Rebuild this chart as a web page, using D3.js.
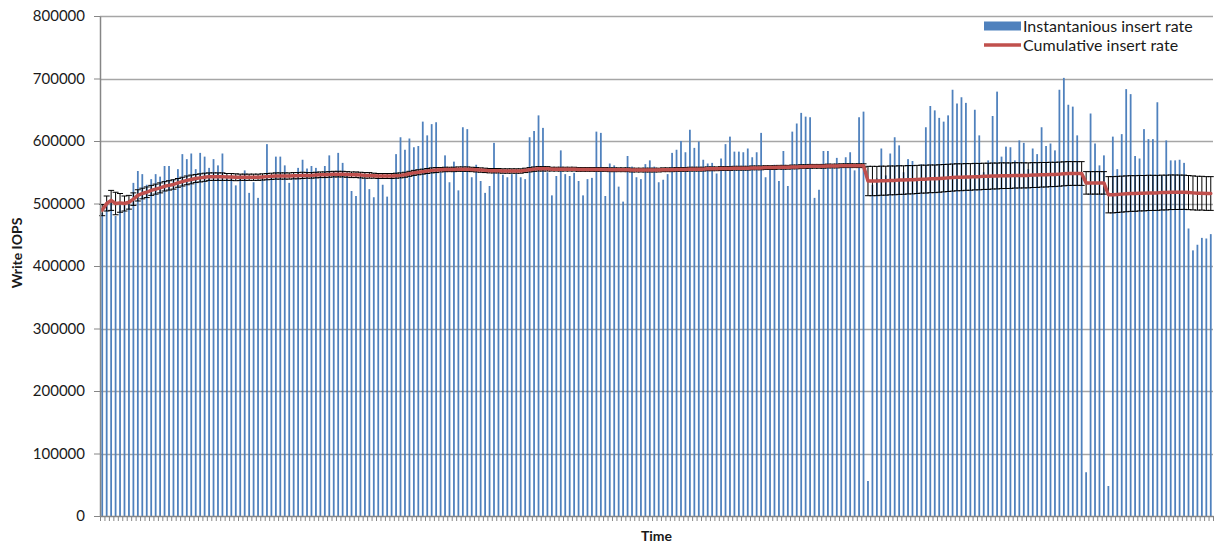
<!DOCTYPE html>
<html>
<head>
<meta charset="utf-8">
<script src="https://cdn.jsdelivr.net/npm/d3@7"></script>
<style>
    body { margin: 0; background: #ffffff; }
    svg { display: block; font-family: "Lato", "Open Sans", sans-serif; }
</style>
</head>
<body>
<svg id="chart" width="1221" height="548"></svg>
<script>

//*************************************************//
// Chart data
//*************************************************//

// Instantaneous insert rate, one value per time slot
var instantRate = [
    485000, 500000, 505000, 480000, 497000, 500000, 505000, 533000, 552000, 547000,
    530000, 539000, 547000, 543000, 560000, 560000, 539000, 555000, 579000, 571000,
    580000, 555000, 581000, 575000, 557000, 571000, 561000, 580000, 545000, 545000,
    529000, 545000, 553000, 517000, 534000, 509000, 540000, 595000, 545000, 575000,
    575000, 561000, 533000, 545000, 557000, 570000, 556000, 560000, 557000, 545000,
    560000, 577000, 552000, 581000, 565000, 545000, 520000, 512000, 542000, 540000,
    523000, 510000, 541000, 530000, 511000, 543000, 579000, 606000, 586000, 604000,
    590000, 592000, 631000, 609000, 627000, 630000, 550000, 577000, 534000, 567000,
    521000, 622000, 619000, 542000, 562000, 536000, 517000, 528000, 597000, 549000,
    546000, 542000, 547000, 548000, 542000, 539000, 606000, 616000, 641000, 621000,
    550000, 513000, 544000, 585000, 547000, 544000, 549000, 536000, 513000, 539000,
    541000, 615000, 613000, 512000, 564000, 561000, 527000, 503000, 576000, 559000,
    542000, 539000, 563000, 569000, 559000, 534000, 538000, 547000, 581000, 586000,
    600000, 582000, 618000, 589000, 599000, 570000, 564000, 565000, 548000, 572000,
    595000, 607000, 583000, 583000, 582000, 588000, 574000, 582000, 613000, 542000,
    558000, 562000, 536000, 584000, 528000, 615000, 628000, 645000, 639000, 638000,
    509000, 522000, 584000, 584000, 560000, 573000, 560000, 574000, 582000, 553000,
    638000, 647000, 56000, 530000, 540000, 588000, 545000, 580000, 606000, 593000,
    550000, 571000, 568000, 540000, 563000, 622000, 656000, 649000, 637000, 631000,
    641000, 682000, 660000, 670000, 661000, 545000, 650000, 609000, 550000, 569000,
    640000, 679000, 575000, 591000, 590000, 569000, 601000, 597000, 555000, 588000,
    579000, 622000, 592000, 596000, 585000, 682000, 701000, 658000, 655000, 609000,
    545000, 70000, 644000, 596000, 561000, 577000, 48000, 607000, 555000, 611000,
    683000, 675000, 576000, 572000, 619000, 603000, 603000, 662000, 545000, 601000,
    569000, 569000, 570000, 565000, 460000, 425000, 434000, 445000, 444000, 451000
];

// Cumulative insert rate, one value per time slot
var cumulativeRate = [
    489500, 500000, 505000, 500000, 501000, 500000, 502000, 507000, 513000, 516000,
    518000, 521000, 523000, 525000, 527500, 529000, 530500, 533000, 535000, 537000,
    538500, 540000, 541000, 542000, 543000, 543000, 543000, 543000, 542500, 542500,
    542000, 542000, 542000, 542000, 542000, 542000, 542500, 543000, 543500, 544000,
    544000, 544000, 544000, 544500, 544500, 545000, 545000, 545000, 545500, 546000,
    546000, 546500, 547000, 547000, 547000, 546500, 546000, 546000, 545500, 545000,
    545000, 544500, 544000, 544000, 544000, 544000, 544500, 545000, 546000, 547500,
    549000, 550000, 551000, 552000, 553000, 553500, 554000, 554500, 554500, 554500,
    555000, 555000, 555000, 554500, 554000, 553500, 553000, 552500, 552500, 552500,
    552000, 552000, 552000, 552000, 552000, 553000, 554000, 555000, 555500, 555500,
    555500, 555000, 555000, 555000, 555000, 555000, 555000, 554500, 554500, 554500,
    554500, 554500, 554500, 554500, 554000, 554000, 554000, 554000, 554000, 553500,
    553500, 553500, 553500, 553500, 553500, 553500, 554000, 554000, 554000, 554500,
    554500, 554500, 555000, 555000, 555000, 555000, 555500, 555500, 555500, 556000,
    556000, 556000, 556500, 556500, 556500, 556500, 557000, 557000, 557000, 557500,
    557500, 557500, 558000, 558000, 558000, 558500, 558500, 559000, 559000, 559500,
    559500, 559500, 559500, 560000, 560000, 560000, 560500, 560500, 560500, 560500,
    560500, 560500, 536000, 536000, 536000, 536500, 536500, 537000, 537000, 537500,
    537500, 538000, 538000, 538500, 539000, 539000, 539500, 539500, 540000, 540500,
    541000, 541500, 542000, 542000, 542500, 542500, 543000, 543000, 543500, 543500,
    544000, 544000, 544500, 544500, 544500, 545000, 545000, 545000, 545000, 545500,
    545500, 546000, 546000, 546500, 546500, 547000, 547500, 548000, 548000, 548000,
    548000, 533000, 533000, 533000, 533000, 533000, 514000, 514000, 514500, 515000,
    515500, 516000, 516000, 516500, 516500, 517000, 517000, 517000, 517500, 517500,
    518000, 518000, 518000, 518000, 517500, 517000, 516500, 516500, 516000, 516000
];

// Error bar half height on the cumulative rate
var cumulativeError = [
    9000, 12000, 16000, 18000, 15000, 12000, 11000, 10000, 9000, 8500,
    8500, 8000, 8000, 8000, 7500, 7500, 7500, 7000, 7000, 7000,
    7000, 6500, 6500, 6500, 6000, 6000, 6000, 6000, 5500, 5500,
    5500, 5000, 5000, 5000, 5000, 5000, 5000, 5000, 5000, 5000,
    5000, 5000, 5000, 5000, 5000, 5000, 4500, 4500, 4500, 4500,
    4500, 4500, 4500, 4500, 4500, 4500, 4500, 4500, 4500, 4500,
    4500, 4000, 4000, 4000, 4000, 4000, 4000, 4000, 4000, 4000,
    4000, 4000, 4000, 4000, 4000, 4000, 3500, 3500, 3500, 3500,
    3500, 3500, 3500, 3500, 3500, 3500, 3500, 3500, 3500, 3500,
    3500, 3500, 3500, 3500, 3500, 3500, 3500, 3500, 3500, 3500,
    3500, 3000, 3000, 3000, 3000, 3000, 3000, 3000, 3000, 3000,
    3000, 3000, 3000, 3000, 3000, 3000, 3000, 3000, 3000, 3000,
    3000, 3000, 3000, 3000, 3000, 3000, 3000, 3000, 3000, 3000,
    3000, 3000, 3000, 3000, 3000, 3000, 3000, 3000, 3000, 3000,
    3000, 3000, 3000, 3000, 3000, 3000, 3000, 3000, 3000, 3000,
    3000, 3000, 3000, 3000, 3000, 3000, 3000, 3000, 3000, 3000,
    3000, 3000, 3000, 3000, 3000, 3000, 3000, 3000, 3000, 3000,
    3000, 3000, 23500, 23500, 23400, 23300, 23200, 23100, 23000, 22900,
    22800, 22700, 22600, 22500, 22400, 22300, 22200, 22100, 22000, 21900,
    21800, 21700, 21600, 21500, 21400, 21300, 21200, 21100, 21000, 20900,
    20800, 20700, 20600, 20500, 20400, 20300, 20200, 20100, 20000, 19900,
    19800, 19700, 19600, 19500, 19400, 19300, 19200, 19100, 19000, 19000,
    19000, 18000, 18000, 18000, 18000, 18000, 29000, 29000, 28900, 28800,
    28700, 28600, 28500, 28400, 28300, 28200, 28100, 28000, 27900, 27800,
    27700, 27600, 27500, 27400, 27300, 27200, 27100, 27000, 27000, 27000
];

// Y axis tick values and labels
var yTicks = [0, 100000, 200000, 300000, 400000, 500000, 600000, 700000, 800000];
var yTickLabels = ["0", "100000", "200000", "300000", "400000", "500000", "600000", "700000", "800000"];

// Legend entries
var legendNames = ["Instantanious insert rate", "Cumulative insert rate"];


//*************************************************//
// Draw chart
//*************************************************//

var svg = d3.select('#chart');

var plot = { left: 100, right: 1213, top: 16, bottom: 516 };

var barColor = '#4f81bd';
var lineColor = '#c0504d';
var gridColor = '#a6a6a6';
var axisColor = '#868686';
var textColor = '#1a1a1a';

// x is the time slot index
var slots = d3.range(instantRate.length);
var x = d3.scaleBand().domain(slots).range([plot.left, plot.right]).paddingInner(0.6).paddingOuter(0.3);
var xEdge = d3.scaleLinear().domain([0, slots.length]).range([plot.left, plot.right]);

// y is write IOPS
var y = d3.scaleLinear().domain([0, 800000]).range([plot.bottom, plot.top]);

/*****************************/
// Gridlines
/*****************************/

svg.append('g')
    .selectAll('line')
    .data(yTicks.filter(function(d) { return d > 0; }))
    .enter().append('line')
    .attr('x1', plot.left)
    .attr('x2', plot.right)
    .attr('y1', function(d) { return Math.round(y(d)) + 0.5; })
    .attr('y2', function(d) { return Math.round(y(d)) + 0.5; })
    .attr('stroke', gridColor)
    .attr('stroke-width', 1.3);

/*****************************/
// Bars
/*****************************/

svg.append('g')
    .selectAll('rect')
    .data(instantRate)
    .enter().append('rect')
    .attr('x', function(d, i) { return x(i); })
    .attr('width', x.bandwidth())
    .attr('y', function(d) { return y(d); })
    .attr('height', function(d) { return plot.bottom - y(d); })
    .attr('fill', barColor);

/*****************************/
// Error bars
/*****************************/

var errGroup = svg.append('g')
    .attr('stroke', '#000000')
    .attr('stroke-width', 1);

var capHalf = 3;

errGroup.selectAll('.err-v')
    .data(cumulativeRate)
    .enter().append('line')
    .attr('class', 'err-v')
    .attr('x1', function(d, i) { return x(i) + x.bandwidth() / 2; })
    .attr('x2', function(d, i) { return x(i) + x.bandwidth() / 2; })
    .attr('y1', function(d, i) { return y(d + cumulativeError[i]); })
    .attr('y2', function(d, i) { return y(d - cumulativeError[i]); });

errGroup.selectAll('.err-top')
    .data(cumulativeRate)
    .enter().append('line')
    .attr('class', 'err-top')
    .attr('x1', function(d, i) { return x(i) + x.bandwidth() / 2 - capHalf; })
    .attr('x2', function(d, i) { return x(i) + x.bandwidth() / 2 + capHalf; })
    .attr('y1', function(d, i) { return y(d + cumulativeError[i]); })
    .attr('y2', function(d, i) { return y(d + cumulativeError[i]); });

errGroup.selectAll('.err-bot')
    .data(cumulativeRate)
    .enter().append('line')
    .attr('class', 'err-bot')
    .attr('x1', function(d, i) { return x(i) + x.bandwidth() / 2 - capHalf; })
    .attr('x2', function(d, i) { return x(i) + x.bandwidth() / 2 + capHalf; })
    .attr('y1', function(d, i) { return y(d - cumulativeError[i]); })
    .attr('y2', function(d, i) { return y(d - cumulativeError[i]); });

/*****************************/
// Cumulative line
/*****************************/

var line = d3.line()
    .x(function(d, i) { return x(i) + x.bandwidth() / 2; })
    .y(function(d) { return y(d); });

svg.append('path')
    .datum(cumulativeRate)
    .attr('d', line)
    .attr('fill', 'none')
    .attr('stroke', lineColor)
    .attr('stroke-width', 3.5)
    .attr('stroke-linejoin', 'round')
    .attr('stroke-linecap', 'round');

/*****************************/
// Axes
/*****************************/

var xAxis = svg.append('g')
    .attr('transform', 'translate(0,' + plot.bottom + ')')
    .call(d3.axisBottom(xEdge).tickValues(d3.range(slots.length + 1)).tickFormat('').tickSize(5).tickSizeOuter(0));

xAxis.selectAll('line').attr('stroke', axisColor);
xAxis.select('.domain').attr('stroke', axisColor).attr('stroke-width', 1.5);

var yAxis = svg.append('g')
    .attr('transform', 'translate(' + plot.left + ',0)')
    .call(d3.axisLeft(y).tickValues(yTicks).tickFormat(function(d, i) { return yTickLabels[i]; }).tickSize(6).tickSizeOuter(0).tickPadding(9));

yAxis.selectAll('line').attr('stroke', axisColor);
yAxis.select('.domain').attr('stroke', axisColor).attr('stroke-width', 1.5);
yAxis.selectAll('text')
    .attr('fill', textColor)
    .style('font-size', '15px')
    .style('font-family', 'Lato, "Open Sans", sans-serif');

// Axis titles
svg.append('text')
    .attr('transform', 'translate(22,253) rotate(-90)')
    .attr('text-anchor', 'middle')
    .attr('fill', textColor)
    .style('font-size', '14px')
    .style('font-weight', 'bold')
    .text('Write IOPS');

svg.append('text')
    .attr('x', (plot.left + plot.right) / 2)
    .attr('y', 541)
    .attr('text-anchor', 'middle')
    .attr('fill', textColor)
    .style('font-size', '14px')
    .style('font-weight', 'bold')
    .text('Time');

/*****************************/
// Legend
/*****************************/

var legend = svg.append('g').attr('transform', 'translate(984,26)');

legend.append('rect')
    .attr('x', 0)
    .attr('y', -4.5)
    .attr('width', 37)
    .attr('height', 9)
    .attr('fill', barColor);

legend.append('line')
    .attr('x1', 0)
    .attr('x2', 37)
    .attr('y1', 19)
    .attr('y2', 19)
    .attr('stroke', lineColor)
    .attr('stroke-width', 3.5);

legend.selectAll('.legend-text')
    .data(legendNames)
    .enter().append('text')
    .attr('class', 'legend-text')
    .attr('x', 39)
    .attr('y', function(d, i) { return i * 19; })
    .attr('dy', '0.36em')
    .style('font-size', '16px')
    .attr('fill', textColor)
    .text(function(d) { return d; });

</script>
</body>
</html>
